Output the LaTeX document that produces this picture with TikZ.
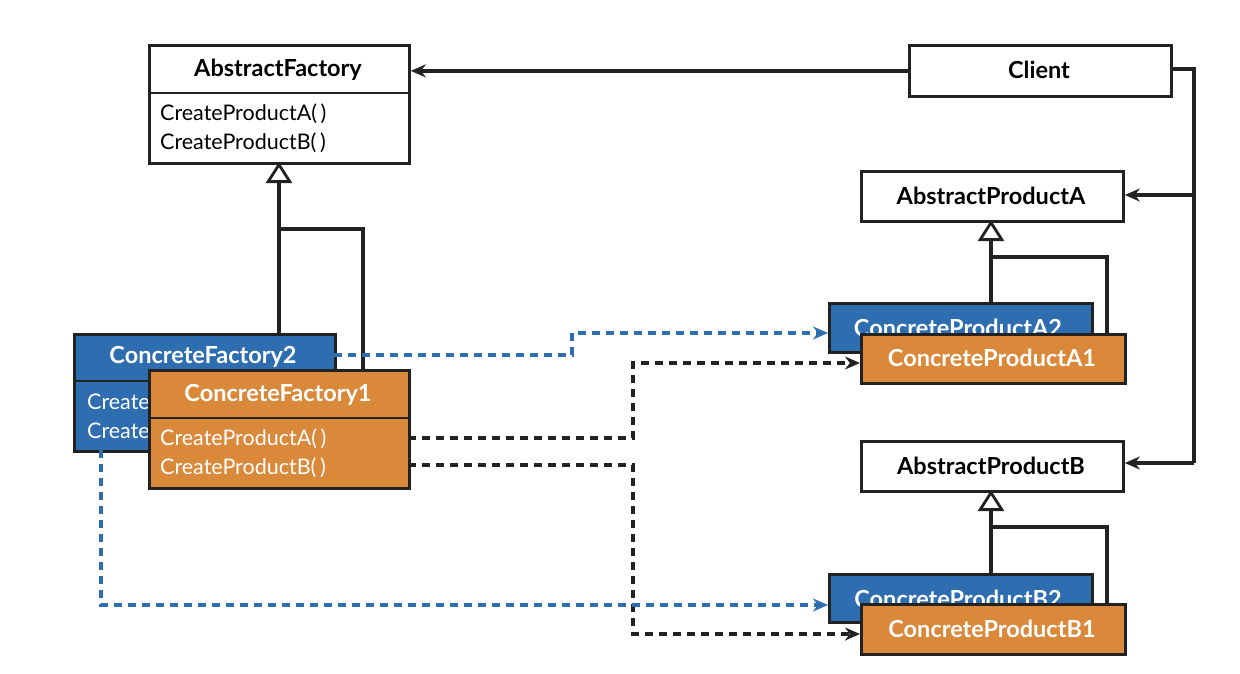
\documentclass[tikz,border=0pt]{standalone}
\usepackage{fontspec}
\setmainfont{Lato}
\usetikzlibrary{arrows.meta}
\definecolor{cfblue}{HTML}{2E6DB0}
\definecolor{cforange}{HTML}{DA883A}
\definecolor{edge}{HTML}{222222}
\tikzset{
  box/.style={draw=edge, line width=2.8pt, anchor=north west, inner sep=0pt},
  plainbox/.style={box, fill=white},
  bluebox/.style={box, fill=cfblue},
  orangebox/.style={box, fill=cforange},
  title/.style={font=\fontsize{23.5}{26}\selectfont\bfseries, inner sep=0pt},
  meth/.style={font=\fontsize{21.5}{24}\selectfont, inner sep=0pt, anchor=west},
  wtitle/.style={title, text=white},
  wmeth/.style={meth, text=white},
  divider/.style={draw=edge, line width=2.5pt},
  assoc/.style={draw=edge, line width=3.2pt, -{Stealth[length=15pt,width=13pt]}},
  inherit/.style={draw=edge, line width=3.2pt, -{Triangle[open,length=21pt,width=26pt,line width=2.8pt]}},
  plainline/.style={draw=edge, line width=3.2pt},
  depblack/.style={draw=edge, line width=3.2pt, dash pattern=on 8pt off 6pt, -{Stealth[length=15pt,width=13pt]}},
  depblue/.style={draw=cfblue, line width=3.2pt, dash pattern=on 8pt off 6pt, -{Stealth[length=15pt,width=13pt]}},
}
\begin{document}
\begin{tikzpicture}[x=1pt,y=-1pt]
\useasboundingbox[fill=white] (0,0) rectangle (1240,673);

% Abstract factory
\node[plainbox, minimum width=260pt, minimum height=118pt] (af) at (148,44) {};
\draw[divider] (148,93) -- (408,93);
\node[title] (aft) at (278,70) {AbstractFactory};
\node[meth] (afa) at (160,114) {CreateProductA(\,)};
\node[meth] (afb) at (160,143) {CreateProductB(\,)};

% Client
\node[plainbox, minimum width=262pt, minimum height=51pt] (cl) at (908,44) {};
\node[title] (clt) at (1039,70) {Client};

% Abstract products
\node[plainbox, minimum width=262pt, minimum height=50pt] (apa) at (860,170) {};
\node[title] (apat) at (991,196) {AbstractProductA};
\node[plainbox, minimum width=262pt, minimum height=50pt] (apb) at (860,440) {};
\node[title] (apbt) at (991,466) {AbstractProductB};

% Concrete factory 2 (its method names are hidden behind ConcreteFactory1)
\node[bluebox, minimum width=261pt, minimum height=117pt] (cf2) at (73,333) {};
\draw[divider] (73,381) -- (334,381);
\node[wtitle] (cf2t) at (203,357) {ConcreteFactory2};
\node[wmeth] (cf2a) at (87,402) {Create};
\node[wmeth] (cf2b) at (87,431) {Create};

% Concrete factory 1
\node[orangebox, minimum width=260pt, minimum height=118pt] (cf1) at (148,369) {};
\draw[divider] (148,418) -- (408,418);
\node[wtitle] (cf1t) at (278,395) {ConcreteFactory1};
\node[wmeth] (cf1a) at (160,439) {CreateProductA(\,)};
\node[wmeth] (cf1b) at (160,468) {CreateProductB(\,)};

% Concrete products A
\node[bluebox, minimum width=263pt, minimum height=49pt] (cpa2) at (828,302) {};
\node[wtitle] (cpa2t) at (958,328) {ConcreteProductA2};
\node[orangebox, minimum width=264pt, minimum height=49pt] (cpa1) at (860,333) {};
\node[wtitle] (cpa1t) at (992,358) {ConcreteProductA1};

% Concrete products B
\node[bluebox, minimum width=263pt, minimum height=48pt] (cpb2) at (828,573) {};
\node[wtitle] (cpb2t) at (958,599) {ConcreteProductB2};
\node[orangebox, minimum width=264pt, minimum height=50pt] (cpb1) at (860,603) {};
\node[wtitle] (cpb1t) at (992,629) {ConcreteProductB1};

% helper coordinates
\coordinate (clr) at (1170,69);
\coordinate (bus) at (1194,69);

% Client associations
\draw[assoc] (cl.west) -- (af.east |- cl.west);
\draw[plainline] (clr) -- (bus) -- (1194,463);
\draw[assoc] (1194,195) -- (apa.east |- 0,195);
\draw[assoc] (1194,463) -- (apb.east |- 0,463);

% Inheritance factories
\draw[inherit] (279,333) -- (279,162);
\draw[plainline] (363,369) -- (363,229) -- (279,229);

% Inheritance products A
\draw[inherit] (991,302) -- (991,220);
\draw[plainline] (1107,333) -- (1107,257) -- (991,257);

% Inheritance products B
\draw[inherit] (991,573) -- (991,490);
\draw[plainline] (1107,603) -- (1107,527) -- (991,527);

% Dependencies
\draw[depblue] (334,355) -- (572,355) -- (572,333) -- (cpa2.west |- 0,333);
\draw[depblack] (408,438) -- (633,438) -- (633,363) -- (cpa1.west |- 0,363);
\draw[depblack] (408,465) -- (633,465) -- (633,634) -- (cpb1.west |- 0,634);
\draw[depblue] (101,450) -- (101,605) -- (cpb2.west |- 0,605);
\end{tikzpicture}
\end{document}
